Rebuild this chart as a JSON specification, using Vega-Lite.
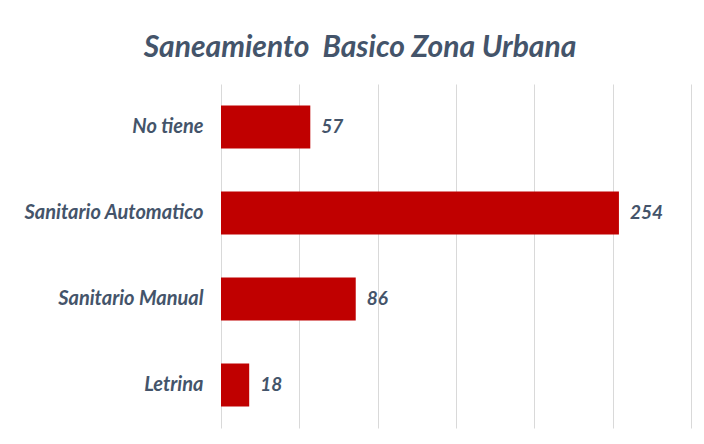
{
  "$schema": "https://vega.github.io/schema/vega-lite/v6.json",
  "width": 470,
  "height": 344,
  "autosize": {"type": "none"},
  "padding": {"left": 221, "top": 84, "right": 13, "bottom": 16},
  "background": "white",
  "title": {
    "text": "Saneamiento\u00a0 Basico Zona Urbana",
    "font": "Lato",
    "fontSize": 30,
    "fontWeight": "bold",
    "fontStyle": "italic",
    "color": "#44546A",
    "anchor": "middle",
    "dx": -96,
    "offset": 21
  },
  "data": {
    "values": [
      {"categoria": "No tiene", "valor": 57},
      {"categoria": "Sanitario Automatico", "valor": 254},
      {"categoria": "Sanitario Manual", "valor": 86},
      {"categoria": "Letrina", "valor": 18}
    ]
  },
  "encoding": {
    "y": {
      "field": "categoria",
      "type": "nominal",
      "sort": null,
      "scale": {"paddingInner": 0.5, "paddingOuter": 0.25},
      "axis": {
        "title": null,
        "domain": false,
        "ticks": false,
        "labelPadding": 18,
        "labelFont": "Lato",
        "labelFontSize": 20,
        "labelFontWeight": "bold",
        "labelFontStyle": "italic",
        "labelColor": "#44546A",
        "labelLimit": 300
      }
    },
    "x": {
      "field": "valor",
      "type": "quantitative",
      "scale": {"domain": [0, 300], "nice": false},
      "axis": {
        "title": null,
        "domain": false,
        "ticks": false,
        "labels": false,
        "values": [0, 50, 100, 150, 200, 250, 300],
        "grid": true,
        "gridColor": "#D9D9D9",
        "gridWidth": 1
      }
    }
  },
  "layer": [
    {"mark": {"type": "bar", "color": "#C00000"}},
    {
      "mark": {
        "type": "text",
        "align": "left",
        "baseline": "middle",
        "dx": 11,
        "font": "Lato",
        "fontSize": 19,
        "fontWeight": "bold",
        "fontStyle": "italic",
        "color": "#44546A"
      },
      "encoding": {"text": {"field": "valor", "type": "quantitative"}}
    }
  ],
  "config": {"view": {"stroke": null}}
}
